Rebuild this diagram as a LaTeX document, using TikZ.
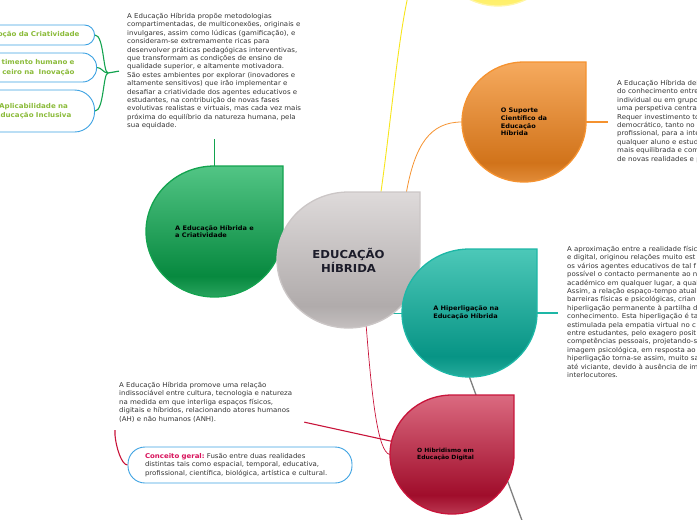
\documentclass[tikz,border=0pt]{standalone}
\usepackage{fontspec}
\setmainfont{DejaVu Sans}[FakeStretch=1.06]
\usetikzlibrary{shapes.geometric,backgrounds,calc}
\definecolor{hibgraytop}{HTML}{DEDADA}
\definecolor{hibgraybot}{HTML}{B0ABAB}
\definecolor{hibgrayline}{HTML}{CBC6C6}
\definecolor{hibgreentop}{HTML}{52C585}
\definecolor{hibgreenbot}{HTML}{07893F}
\definecolor{hibgreenline}{HTML}{13A34F}
\definecolor{hiborangetop}{HTML}{F6AA5E}
\definecolor{hiborangebot}{HTML}{D1731A}
\definecolor{hiborangeline}{HTML}{F5922F}
\definecolor{hibtealtop}{HTML}{4CC8B8}
\definecolor{hibtealbot}{HTML}{079485}
\definecolor{hibtealline}{HTML}{1DB7A6}
\definecolor{hibredtop}{HTML}{DB6A80}
\definecolor{hibredbot}{HTML}{A00D2B}
\definecolor{hibredline}{HTML}{C8143A}
\definecolor{hibyellowtop}{HTML}{FFF49A}
\definecolor{hibyellowbot}{HTML}{FFEE55}
\definecolor{hibyellowline}{HTML}{FFF6A8}
\definecolor{hibblue}{HTML}{3DA2E2}
\definecolor{hiblime}{HTML}{8BBB3A}
\definecolor{hibpink}{HTML}{D8125B}
\definecolor{hibtext}{HTML}{333333}
\definecolor{hibdark}{HTML}{1C1C2A}
\definecolor{hibconngray}{HTML}{7F7F7F}
\definecolor{hibconnyellow}{HTML}{F7E51C}
% glossy vertical shadings, darkest band near the bottom
\newcommand{\hibshading}[2]{%
  \pgfdeclareverticalshading{#1}{100bp}{%
    color(0bp)=(#2bot!55!#2top); color(25bp)=(#2bot!55!#2top);
    color(33bp)=(#2bot); color(75bp)=(#2top); color(100bp)=(#2top)}}
\hibshading{shgray}{hibgray}
\hibshading{shgreen}{hibgreen}
\hibshading{shorange}{hiborange}
\hibshading{shteal}{hibteal}
\hibshading{shred}{hibred}
\hibshading{shyellow}{hibyellow}
\newcommand{\hibbodyfont}{\fontsize{6.6}{8.4}\selectfont}
\newcommand{\hiblabelfont}{\bfseries\fontsize{6.2}{7.8}\selectfont}
\newcommand{\hibbubblefont}{\bfseries\fontsize{6.7}{9.4}\selectfont}
\tikzstyle{dropgray} = [shade, shading=shgray, draw=hibgrayline, line width=1.3pt]
\tikzstyle{dropgreen} = [shade, shading=shgreen, draw=hibgreenline, line width=1.3pt]
\tikzstyle{droporange} = [shade, shading=shorange, draw=hiborangeline, line width=1.3pt]
\tikzstyle{dropteal} = [shade, shading=shteal, draw=hibtealline, line width=1.3pt]
\tikzstyle{dropred} = [shade, shading=shred, draw=hibredline, line width=1.3pt]
\tikzstyle{dropyellow} = [shade, shading=shyellow, draw=hibyellowline, line width=1.3pt]
\tikzstyle{droplabel} = [ellipse, inner sep=0pt, align=left, font=\hiblabelfont, text=black]
\tikzstyle{rootlabel} = [align=center, font=\bfseries\fontsize{11}{14}\selectfont, text=hibdark]
\tikzstyle{bodytext} = [inner sep=0pt, align=left, font=\hibbodyfont, text=hibtext, anchor=north west]
\tikzstyle{bubble} = [draw=hibblue, line width=0.9pt, fill=white, font=\hibbubblefont,
    text=hiblime, anchor=east, text width=150pt]
\tikzstyle{conceptbox} = [draw=hibblue, line width=0.9pt, rounded corners=17pt, fill=white,
    font=\hibbodyfont, text=hibtext, align=left, text width=190pt, inner xsep=17pt,
    minimum height=36pt]
% teardrop: three round corners, square top right
\newcommand{\hibdrop}[8]{%
  \path[#6] ({#2+#4},{#3-#5}) -- ({#2+#4},#3)
    arc[start angle=0, end angle=270, x radius=#4, y radius=#5] -- cycle;
  \node[droplabel, minimum width=2*#4, minimum height=2*#5, #7] (#1) at (#2,#3) {#8};
}

\begin{document}
\begin{tikzpicture}[x=1pt,y=-1pt]
\useasboundingbox (0,0) rectangle (697,520);
\clip (0,0) rectangle (697,520);

\hibdrop{yel}{498}{-54}{62}{60}{dropyellow}{}{}
\hibdrop{green}{214.5}{231.5}{68.5}{65.5}{dropgreen}{}{A Educação Híbrida e\\a Criatividade}
\hibdrop{gray}{348.5}{260}{71.5}{68}{dropgray}{rootlabel}{EDUCAÇÃO\\HÍBRIDA}
\hibdrop{orange}{524}{122}{62}{60}{droporange}{}{O Suporte\\Científico da\hspace*{19pt}\\Educação\\Híbrida}
\hibdrop{teal}{469.5}{313}{67.5}{64}{dropteal}{}{A Hiperligação na\hspace*{7pt}\\Educação Híbrida}
\hibdrop{red}{452}{454.5}{62}{59.5}{dropred}{font=\bfseries\fontsize{5.7}{7.6}\selectfont}{O Hibridismo em\hspace*{13pt}\\Educação Digital}

\node[bodytext] (tltext) at (127,13) {A Educação Híbrida propõe metodologias\\
compartimentadas, de multiconexões, originais e\\
invulgares, assim como lúdicas (gamificação), e\\
consideram-se extremamente ricas para\\
desenvolver práticas pedagógicas interventivas,\\
que transformam as condições de ensino de\\
qualidade superior, e altamente motivadora.\\
São estes ambientes por explorar (inovadores e\\
altamente sensitivos) que irão implementar e\\
desafiar a criatividade dos agentes educativos e\\
estudantes, na contribuição de novas fases\\
evolutivas realistas e virtuais, mas cada vez mais\\
próxima do equilíbrio da natureza humana, pela\\
sua equidade.};

\node[bodytext] (otext) at (617,80) {A Educação Híbrida dei\\
do conhecimento entre\\
individual ou em grupo\\
uma perspetiva centra\\
Requer investimento to\\
democrático, tanto no\\
profissional, para a inte\\
qualquer aluno e estud\\
mais equilibrada e com\\
de novas realidades e p};

\node[bodytext] (ttext) at (567,246) {A aproximação entre a realidade físic\\
e digital, originou relações muito est\\
os vários agentes educativos de tal f\\
possível o contacto permanente ao n\\
académico em qualquer lugar, a qual\\
Assim, a relação espaço-tempo atual\\
barreiras físicas e psicológicas, crian\\
hiperligação permanente à partilha d\\
conhecimento. Esta hiperligação é ta\\
estimulada pela empatia virtual no c\\
entre estudantes, pelo exagero posit\\
competências pessoais, projetando-s\\
imagem psicológica, em resposta ao\\
hiperligação torna-se assim, muito sa\\
até viciante, devido à ausência de im\\
interlocutores.};

\node[bodytext] (rtext) at (119,382) {A Educação Híbrida promove uma relação\\
indissociável entre cultura, tecnologia e natureza\\
na medida em que interliga espaços físicos,\\
digitais e híbridos, relacionando atores humanos\\
(AH) e não humanos (ANH).};

\node[conceptbox] (conc) at (240,465) {\textcolor{hibpink}{\bfseries Conceito geral:}~Fusão entre duas realidades\\
distintas tais como espacial, temporal, educativa,\\
profissional, científica, biológica, artística e cultural.};

\node[bubble, rounded corners=10pt, minimum height=20pt, inner xsep=15pt, align=right] (bub1) at (95,35) {oção da Criatividade};
\node[bubble, rounded corners=14pt, minimum height=29pt, inner xsep=22pt, align=right] (bub2) at (97,67.5) {timento humano e\\ceiro na\ \ Inovação};
\node[bubble, rounded corners=20pt, minimum height=42pt, inner xsep=9pt, text width=104pt, align=center] (bub3) at (95,111) {Aplicabilidade na\\Educação Inclusiva};

% connectors, behind the drops
\begin{scope}[on background layer]
\coordinate (grayend) at (531,545);
\coordinate (gj) at (108,73);
\draw[hibconnyellow, line width=0.9pt] ([xshift=32.5pt]gray.north) .. controls (398,70) and (404,-54) .. (yel.west);
\draw[hiborangeline, line width=0.8pt] ([xshift=58pt]gray.north) .. controls (415,145) and (430,122) .. (orange.west);
\draw[hiborangeline, line width=1.8pt, shorten >=9pt] (orange.east) -- (orange.east -| otext.west);
\draw[hibtealline, line width=0.9pt] (gray.center |- teal.west) -- (teal.west);
\draw[hibtealline, line width=1.8pt, shorten >=9pt] (teal.east) -- (teal.east -| ttext.west);
\draw[hibconngray, line width=1.3pt] (teal.south) -- (grayend);
\draw[hibredline, line width=0.7pt] (gray.-75) .. controls (372,400) and (378,452) .. (red.west);
\draw[hibredline, line width=1.1pt] ([xshift=12pt]rtext.south east) -- (red.center);
\draw[hibredline, line width=1.1pt] ([xshift=-4pt,yshift=-8pt]rtext.south west) -- ++(0,5) .. controls +(1,12) and +(-6,0) .. (conc.west);
\draw[hibgreenline, line width=1.8pt] (green.north) -- ++(0,-27);
\draw[hibgreenline, line width=1.2pt] ([xshift=-8pt]tltext.west) -- (gj);
\draw[hibgreenline, line width=1.1pt] (gj) .. controls (103,73) and (104,35) .. (bub1.east);
\draw[hibgreenline, line width=1.1pt] (gj) .. controls (103,73) and (102,67.5) .. (bub2.east);
\draw[hibgreenline, line width=1.1pt] (gj) .. controls (103,73) and (104,111) .. (bub3.east);
\end{scope}
\end{tikzpicture}
\end{document}
